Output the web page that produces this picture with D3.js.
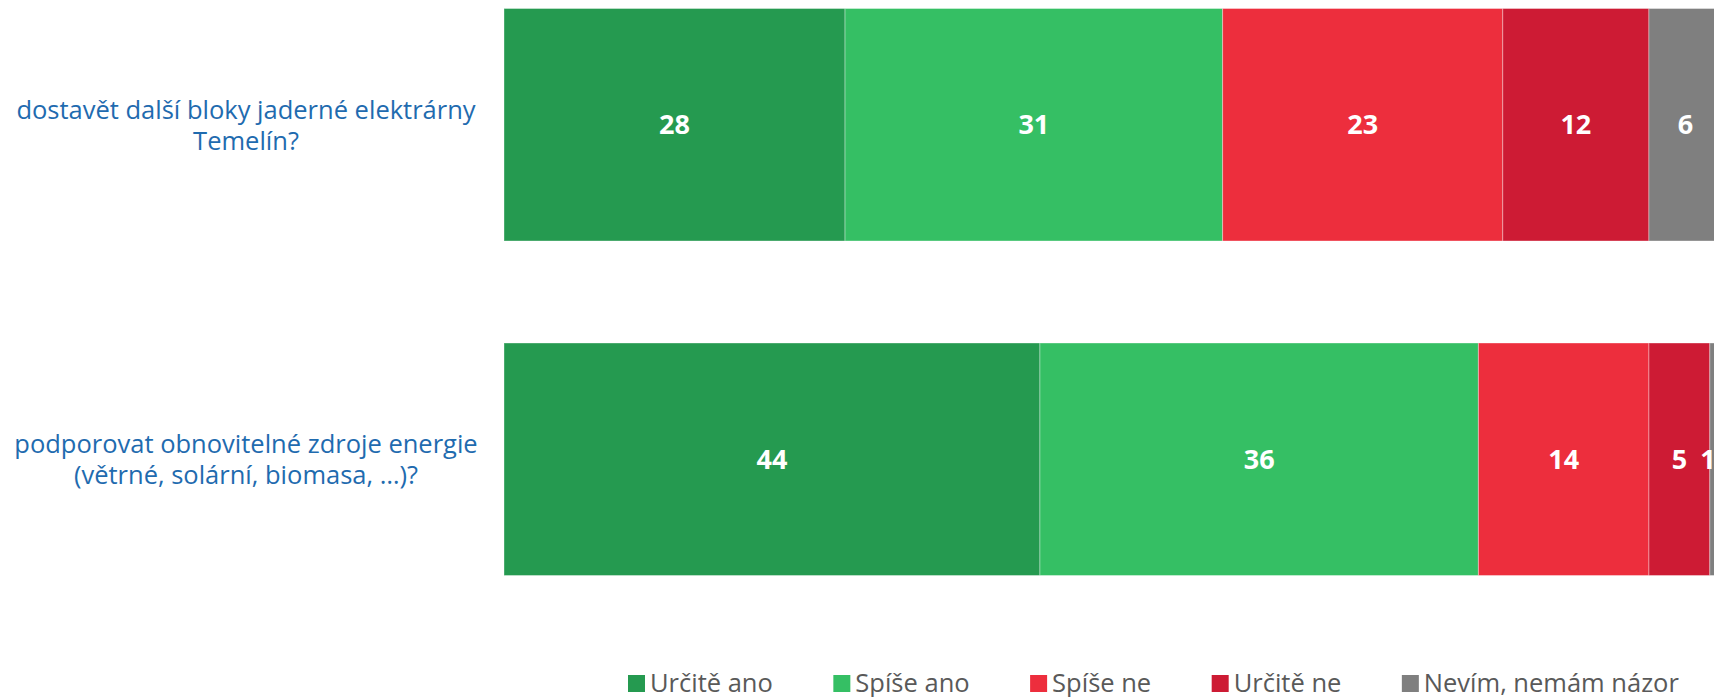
<!DOCTYPE html>
<html>
<head>
<meta charset="utf-8">
<script src="https://cdn.jsdelivr.net/npm/d3@7"></script>
<style>
  body { margin: 0; background: #fff; }
  svg { display: block; }
</style>
</head>
<body>
<div id="chart"></div>
<script>
// data (percent)
var questions = [
  ["dostavět další bloky jaderné elektrárny", "Temelín?"],
  ["podporovat obnovitelné zdroje energie", "(větrné, solární, biomasa, …)?"]
];
var answers = ["Určitě ano", "Spíše ano", "Spíše ne", "Určitě ne", "Nevím, nemám názor"];
var urciteAno = [28, 44];
var spiseAno  = [31, 36];
var spiseNe   = [23, 14];
var urciteNe  = [12, 5];
var nevim     = [6, 1];
var colors = ["#259A50", "#35BF64", "#ED2E3D", "#CD1B34", "#7F7F7F"];

var width = 1714, height = 697;

// build rows for the stack
var rows = questions.map(function(q, i) {
  return {
    q: i,
    "Určitě ano": urciteAno[i],
    "Spíše ano": spiseAno[i],
    "Spíše ne": spiseNe[i],
    "Určitě ne": urciteNe[i],
    "Nevím, nemám názor": nevim[i]
  };
});
var series = d3.stack().keys(answers)(rows);

// set the ranges
var x = d3.scaleLinear().domain([0, 100]).range([504, 1722]);
var y = d3.scaleBand()
    .domain(d3.range(questions.length))
    .range([-42.5, 626.5])
    .paddingInner(0.305)
    .paddingOuter(0.1525);

var svg = d3.select("#chart").append("svg")
    .attr("width", width)
    .attr("height", height);

var color = d3.scaleOrdinal().domain(answers).range(colors);

// bars
var layer = svg.append("g").selectAll("g")
    .data(series)
  .enter().append("g")
    .attr("fill", function(d) { return color(d.key); });

layer.selectAll("rect")
    .data(function(d) { return d; })
  .enter().append("rect")
    .attr("x", function(d) { return x(d[0]); })
    .attr("y", function(d) { return y(d.data.q); })
    .attr("width", function(d) { return x(d[1]) - x(d[0]); })
    .attr("height", y.bandwidth())
    .attr("stroke", "rgba(255,255,255,0.35)")
    .attr("stroke-width", 1);

// value labels (kept inside the visible area)
layer.selectAll("text")
    .data(function(d) { return d; })
  .enter().append("text")
    .attr("x", function(d) { return Math.min((x(d[0]) + x(d[1])) / 2, width - 6); })
    .attr("y", function(d) { return y(d.data.q) + y.bandwidth() / 2; })
    .attr("dy", "0.36em")
    .attr("text-anchor", "middle")
    .style("font-family", "'Open Sans', sans-serif")
    .style("font-weight", "bold")
    .style("font-size", "27px")
    .style("fill", "#fff")
    .text(function(d) { return d[1] - d[0]; });

// category labels
var cat = svg.append("g").selectAll("text")
    .data(questions)
  .enter().append("text")
    .attr("x", 246)
    .attr("y", function(d, i) { return y(i) + y.bandwidth() / 2 - 6; })
    .attr("text-anchor", "middle")
    .style("font-family", "'Open Sans', sans-serif")
    .style("font-size", "25.5px")
    .style("fill", "#1F6BAF");

cat.selectAll("tspan")
    .data(function(d) { return d; })
  .enter().append("tspan")
    .attr("x", 246)
    .attr("dy", function(d, j) { return j === 0 ? 0 : 31; })
    .text(function(d) { return d; });

// legend
var legend = svg.append("g");
var lx = 628;
answers.forEach(function(a, i) {
  legend.append("rect")
      .attr("x", lx)
      .attr("y", 675)
      .attr("width", 17)
      .attr("height", 17)
      .attr("fill", colors[i]);
  var t = legend.append("text")
      .attr("x", lx + 22)
      .attr("y", 692)
      .style("font-family", "'Open Sans', sans-serif")
      .style("font-size", "25.5px")
      .style("fill", "#595959")
      .text(a);
  lx += 22 + t.node().getComputedTextLength() + 60.5;
});
</script>
</body>
</html>
